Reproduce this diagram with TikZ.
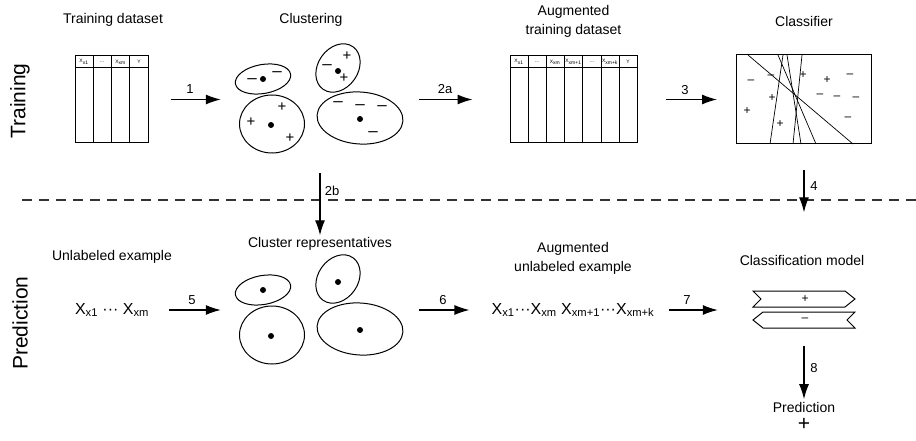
\documentclass[tikz,border=0pt]{standalone}
\usepackage{fontspec}
\setmainfont{Liberation Sans}
\usetikzlibrary{positioning,arrows.meta,shapes.geometric}

\begin{document}
\begin{tikzpicture}[
    x=1pt, y=-1pt,
    lbl/.style = {font=\fontsize{14}{19}\selectfont, align=center, inner sep=0pt},
    side/.style = {font=\fontsize{21}{21}\selectfont, rotate=90, inner sep=0pt},
    num/.style = {font=\fontsize{13}{13}\selectfont, inner sep=0pt},
    tab/.style = {draw, line width=1pt, inner sep=0pt},
    hd/.style = {font=\fontsize{5}{5}\selectfont, inner sep=0pt},
    grp/.style = {inner sep=0pt},
    blob/.style = {draw, ellipse, line width=1pt, inner sep=0pt},
    ctr/.style = {circle, fill, minimum size=6pt, inner sep=0pt},
    pl/.style = {font=\fontsize{15}{15}\selectfont, inner sep=0pt},
    mi/.style = {font=\fontsize{17}{17}\selectfont, inner sep=0pt},
    sm/.style = {font=\fontsize{12}{12}\selectfont, inner sep=0pt},
    feat/.style = {font=\fontsize{16}{16}\selectfont, inner sep=0pt},
    arr/.style = {->, line width=1.2pt},
    > = {Latex[length=15pt, width=10pt]}
]
\useasboundingbox (0,0) rectangle (916,441);

% section titles
\node (trn) [side] at (20,101) {Training};
\node (prd) [side] at (20,323) {Prediction};
\draw[dash pattern=on 10pt off 7pt, line width=1.2pt, black!80] (22,200) -- (916,200);

% training row
\node (tabAl) [lbl] at (113,20) {Training dataset};
\node (tabA) [tab, minimum width=73, minimum height=87] at (111.5,99.5) {};
\draw[line width=1pt] (75,68) -- (148,68);
\foreach \x in {93.5,111,129.5} \draw[line width=1pt] (\x,56) -- (\x,143);
\node [hd] at (84,62) {X\textsubscript{x1}};
\node [hd] at (102,62) {...};
\node [hd] at (120.5,62) {X\textsubscript{xm}};
\node [hd] at (139,62) {Y};

\node (clusl) [lbl] at (311,20) {Clustering};
\node (clus) [grp, minimum width=198, minimum height=110] at (320,99.5) {};
\node (cA) [blob, minimum width=56, minimum height=29, rotate=10] at (263,79) {};
\node (cB) [blob, minimum width=52, minimum height=40, rotate=55] at (338,68) {};
\node (cC) [blob, minimum width=65, minimum height=58] at (272,124) {};
\node (cD) [blob, minimum width=86, minimum height=52, rotate=-4] at (360,118) {};
\foreach \p in {(263,79),(338,71),(271,125),(360,119)} \node [ctr] at \p {};
\foreach \p in {(252,81),(277,74),(327,67),(338,104),(360,107),(382,108),(373,134)}
    \node [mi] at \p {--};
\foreach \p in {(347,56),(344,78),(251,122),(282,107),(290,138)}
    \node [pl] at \p {+};

\node (tabBl) [lbl] at (573.5,21.5) {Augmented\\training dataset};
\node (tabB) [tab, minimum width=127, minimum height=87] at (573.5,99.5) {};
\draw[line width=1pt] (510,68) -- (637,68);
\foreach \x in {528,546,564,582.5,601,619} \draw[line width=1pt] (\x,56) -- (\x,143);
\node [hd] at (519,62) {X\textsubscript{x1}};
\node [hd] at (537,62) {...};
\node [hd] at (555,62) {X\textsubscript{xm}};
\node [hd] at (573.5,62) {X\textsubscript{xm+1}};
\node [hd] at (592,62) {...};
\node [hd] at (610,62) {X\textsubscript{xm+k}};
\node [hd] at (628,62) {Y};

\node (clsl) [lbl] at (804,21) {Classifier};
\node (cls) [tab, minimum width=135, minimum height=89] at (804,99.5) {};
\draw[line width=0.7pt] (748,55) -- (853,144);
\draw[line width=0.7pt] (778,55) -- (816,144);
\draw[line width=0.7pt] (783,55) -- (770,144);
\draw[line width=0.7pt] (787,55) -- (801,144);
\draw[line width=0.7pt] (802,55) -- (793,144);
\foreach \p in {(751,82),(771,77),(850,76),(820,96),(837,98),(856,99),(848,119)}
    \node [sm] at \p {--};
\foreach \p in {(803,75),(827,80),(772,98),(747,111),(780,124)}
    \node [sm] at \p {+};

% prediction row
\node (unll) [lbl] at (112,257) {Unlabeled example};
\node (unl) [feat] at (112,310) {X\textsubscript{x1} ··· X\textsubscript{xm}};

\node (repl) [lbl] at (320,244) {Cluster representatives};
\node (rep) [grp, minimum width=198, minimum height=100] at (320,310) {};
\node (rA) [blob, minimum width=56, minimum height=29, rotate=10] at (263,290) {};
\node (rB) [blob, minimum width=52, minimum height=40, rotate=55] at (338,279) {};
\node (rC) [blob, minimum width=65, minimum height=58] at (272,335) {};
\node (rD) [blob, minimum width=86, minimum height=52, rotate=-4] at (360,329) {};
\foreach \p in {(263,290),(338,282),(271,336),(360,330)} \node [ctr] at \p {};

\node (augl) [lbl] at (573,258) {Augmented\\unlabeled example};
\node (aug) [feat] at (573,310) {X\textsubscript{x1}···X\textsubscript{xm} X\textsubscript{xm+1}···X\textsubscript{xm+k}};

\node (modell) [lbl] at (802,260) {Classification model};
\node (model) [grp, minimum width=102, minimum height=37] at (804,310) {};
\draw[line width=1pt] (753,291) -- (845,291) -- (855,299) -- (845,307) -- (753,307) -- (761,299) -- cycle;
\draw[line width=1pt] (763,312) -- (855,312) -- (847,320) -- (855,328) -- (763,328) -- (753,320) -- cycle;
\node [sm] at (805,299) {+};
\node [sm] at (805,320) {--};

\node (pred) [lbl] at (804,407) {Prediction};
\node (predv) [font=\fontsize{21}{21}\selectfont, inner sep=0pt] at (804,424) {+};

% connectors
\draw[arr, shorten <=22pt] (tabA.east) to (clus.west);
\draw[arr, shorten >=37pt] (clus.east) to (tabB.west);
\draw[arr, shorten <=28pt, shorten >=19pt] (tabB.east) to (cls.west);
\draw[arr, shorten <=18.5pt, shorten >=2pt] (clus.south) to (repl.north);
\draw[arr, shorten <=26pt, shorten >=79pt] (cls.south) to (model.north);
\draw[arr, shorten <=20pt] (unl.east) to (rep.west);
\draw[arr, shorten >=22pt] (rep.east) to (aug.west);
\draw[arr, shorten <=14pt, shorten >=35pt] (aug.east) to (model.west);
\draw[arr, shorten <=17pt, shorten >=2.5pt] (model.south) to (pred.north);

\node [num] at (190,89) {1};
\node [num] at (445,89) {2a};
\node [num] at (685,90) {3};
\node [num] at (332,191) {2b};
\node [num] at (814,186) {4};
\node [num] at (192,300) {5};
\node [num] at (443,300) {6};
\node [num] at (687,300) {7};
\node [num] at (814,368) {8};
\end{tikzpicture}
\end{document}
